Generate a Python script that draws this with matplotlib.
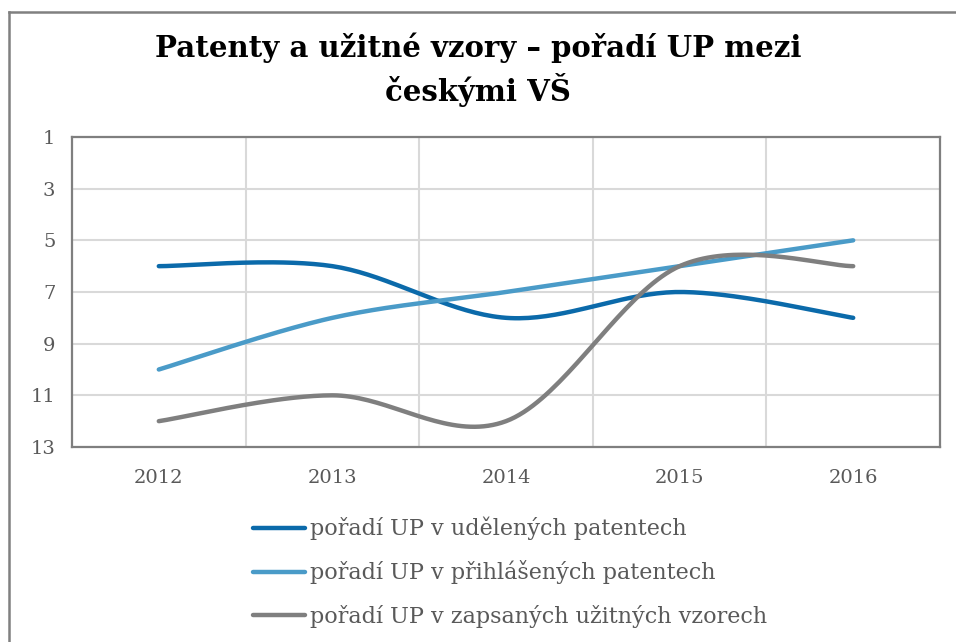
import numpy as np
import matplotlib
matplotlib.use("Agg")
import matplotlib.pyplot as plt
from matplotlib.lines import Line2D

years = ["2012", "2013", "2014", "2015", "2016"]
udelene = [6, 6, 8, 7, 8]
prihlasene = [10, 8, 7, 6, 5]
zapsane = [12, 11, 12, 6, 6]

labels = ["pořadí UP v udělených patentech",
          "pořadí UP v přihlášených patentech",
          "pořadí UP v zapsaných užitných vzorech"]
colors = ["#0b6aaa", "#4a9bc8", "#7f7f7f"]

plt.rcParams['font.family'] = ['DejaVu Serif']
text_col = "#595959"


def smooth(y, n=40):
    # Excel-like smoothed line: cubic Bezier through the points
    x = np.arange(len(y), dtype=float)
    y = np.asarray(y, dtype=float)
    px = np.concatenate([[x[0]], x, [x[-1]]])
    py = np.concatenate([[y[0]], y, [y[-1]]])
    xs, ys = [], []
    t = np.linspace(0, 1, n)[:, None]
    for i in range(len(y) - 1):
        p0 = np.array([px[i + 1], py[i + 1]])
        p3 = np.array([px[i + 2], py[i + 2]])
        p1 = p0 + (p3 - np.array([px[i], py[i]])) / 6
        p2 = p3 - (np.array([px[i + 3], py[i + 3]]) - p0) / 6
        b = ((1 - t) ** 3) * p0 + 3 * ((1 - t) ** 2) * t * p1 + 3 * (1 - t) * t ** 2 * p2 + t ** 3 * p3
        xs.extend(b[:, 0]); ys.extend(b[:, 1])
    return np.array(xs), np.array(ys)


fig = plt.figure(figsize=(9.56, 6.42), dpi=100)
ax = fig.add_axes([72 / 956, 1 - 447 / 642, 868 / 956, 310 / 642])

for series, c in zip([udelene, prihlasene, zapsane], colors):
    sx, sy = smooth(series)
    ax.plot(sx, sy, color=c, lw=3.2, solid_capstyle="round", zorder=3)

ax.set_xlim(-0.5, len(years) - 0.5)
ax.set_ylim(13, 1)
ax.set_yticks(range(1, 14, 2))
ax.set_xticks(range(len(years)))
ax.set_xticklabels(years)
ax.set_xticks(np.arange(0.5, len(years) - 1, 1), minor=True)
ax.grid(axis="y", which="major", color="#d9d9d9", lw=1.5)
ax.grid(axis="x", which="minor", color="#d9d9d9", lw=1.5)
ax.tick_params(which="both", length=0)
ax.tick_params(axis="y", labelsize=14, colors=text_col, pad=12)
ax.tick_params(axis="x", labelsize=14, colors=text_col, pad=16)
for s in ax.spines.values():
    s.set_color("#7f7f7f")
    s.set_linewidth(1.6)

fig.text(0.5, 1 - 70 / 642, "Patenty a užitné vzory – pořadí UP mezi\nčeskými VŠ",
         ha="center", va="center", fontsize=21, fontweight="bold", color="black", linespacing=1.35)

handles = [Line2D([], [], color=c, lw=3.2, solid_capstyle="round") for c in colors]
fig.legend(handles, labels, loc="upper left", bbox_to_anchor=(233 / 956, 1 - 497 / 642),
           frameon=False, fontsize=16, handlelength=2.35, handletextpad=0.2,
           labelspacing=0.9, labelcolor=text_col)

# outer chart border (cropped on right and bottom)
fig.add_artist(Line2D([9 / 956, 9 / 956], [0, 1 - 12 / 642], color="#808080", lw=1.8,
                      transform=fig.transFigure))
fig.add_artist(Line2D([9 / 956, 1], [1 - 12 / 642, 1 - 12 / 642], color="#808080", lw=1.8,
                      transform=fig.transFigure))

fig.savefig("out.png", dpi=100)
